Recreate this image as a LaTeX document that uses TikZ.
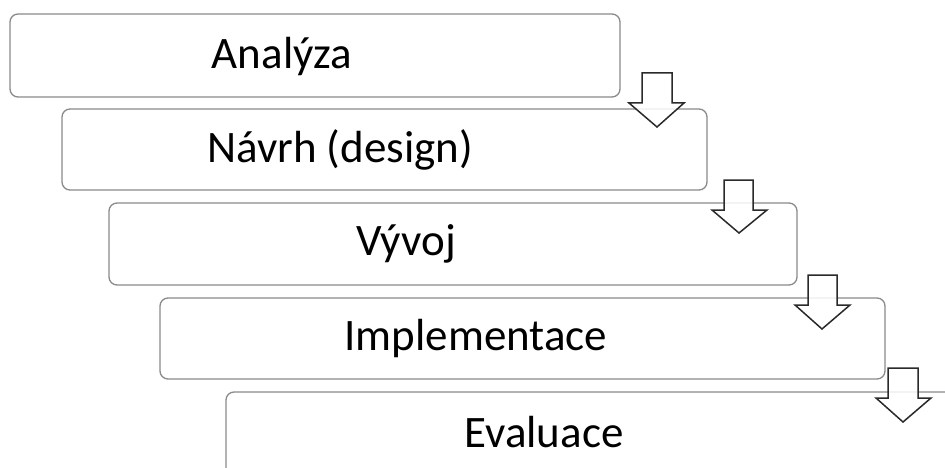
\documentclass[tikz,border=0pt]{standalone}
\usepackage{fontspec}
\setmainfont{Carlito}
\begin{document}
\begin{tikzpicture}[x=1pt,y=-1pt,
  stepbox/.style={draw=boxgray,line width=1.3pt,rounded corners=8pt,fill=white,anchor=north west,inner sep=0pt,outer sep=0pt},
  steplabel/.style={anchor=base,font=\fontsize{45}{52}\selectfont,inner sep=0pt},
  downarr/.style={draw=arrdark,line width=1.5pt,fill=white,fill opacity=0.85,line join=miter}]
\definecolor{boxgray}{HTML}{8A8A8A}
\definecolor{arrdark}{HTML}{2A2A2A}
\useasboundingbox (0,0) rectangle (945,468);
\clip (0,0) rectangle (945,468);
% boxes
\node[stepbox,minimum width=610pt,minimum height=83pt] (b1) at (10,14) {};
\node[stepbox,minimum width=645pt,minimum height=81pt] (b2) at (62,109) {};
\node[stepbox,minimum width=688pt,minimum height=82pt] (b3) at (109,203) {};
\node[stepbox,minimum width=725pt,minimum height=81pt] (b4) at (160,298) {};
\node[stepbox,minimum width=760pt,minimum height=84pt] (b5) at (226,392) {};
% labels
\node[steplabel] (t1) at (282,69) {Analýza};
\node[steplabel] (t2) at (340,162) {Návrh (design)};
\node[steplabel] (t3) at (406,255) {Vývoj};
\node[steplabel] (t4) at (476,350) {Implementace};
\node[steplabel] (t5) at (544,447) {Evaluace};
% arrows: shaft left/right, top, head y, head left/right, tip
\newcommand\stepdownarrow[8]{%
  \draw[downarr] (#1,#3) -- (#2,#3) -- (#2,#4) -- (#6,#4) -- (#7,#8) -- (#5,#4) -- (#1,#4) -- cycle;}
\stepdownarrow{642}{672}{73}{103}{629}{684}{657}{127}
\stepdownarrow{724}{753}{180}{210}{712}{767}{739}{233}
\stepdownarrow{808}{837}{275}{305}{795}{850}{822}{329}
\stepdownarrow{888}{918}{368}{398}{876}{931}{903}{422}
\end{tikzpicture}
\end{document}
